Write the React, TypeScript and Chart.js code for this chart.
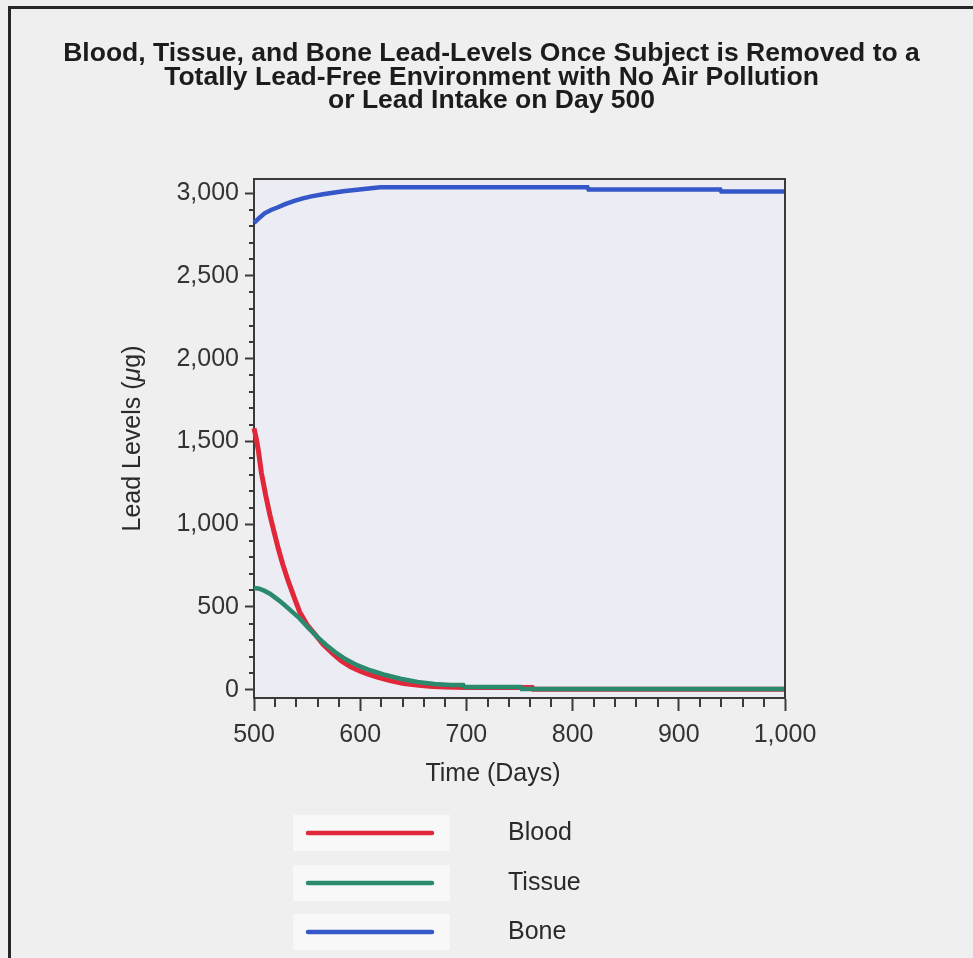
import React, { useEffect, useRef } from 'react';
import { Chart, registerables } from 'chart.js';

Chart.register(...registerables);

const TITLE_LINES = [
  'Blood, Tissue, and Bone Lead-Levels Once Subject is Removed to a',
  'Totally Lead-Free Environment with No Air Pollution',
  'or Lead Intake on Day 500',
];
const X_TITLE = 'Time (Days)';
const Y_TITLE_PARTS = [
  { text: 'Lead Levels (', italic: false },
  { text: 'μ', italic: true },
  { text: 'g)', italic: false },
];

const SERIES_NAMES = ['Blood', 'Tissue', 'Bone'];
const SERIES_COLORS = ['#e0283a', '#2b8a6e', '#3457c9'];

const BLOOD_DAYS = [500, 502, 504, 507, 511, 515, 519, 523, 527, 532, 538, 543, 550, 557, 565, 574, 582, 591, 600, 608, 616, 628, 641, 655, 668, 680, 700, 762, 763, 1000];
const BLOOD_LEVELS = [1580, 1520, 1450, 1310, 1175, 1055, 950, 850, 760, 660, 555, 470, 392, 338, 275, 220, 175, 138, 112, 92, 77, 55, 37, 27, 20, 17, 14, 14, 3, 3];

const TISSUE_DAYS = [500, 505, 510, 515, 519, 524, 529, 536, 543, 551, 560, 568, 576, 586, 597, 610, 622, 638, 654, 670, 685, 697, 698, 751, 752, 1000];
const TISSUE_LEVELS = [615, 610, 597, 580, 561, 537, 510, 470, 431, 375, 316, 270, 229, 185, 148, 116, 92, 66, 47, 35, 28, 28, 16, 16, 5, 5];

const BONE_DAYS = [500, 505, 510, 516, 522, 530, 538, 546, 554, 565, 576, 586, 597, 608, 619, 814, 815, 939, 940, 1000];
const BONE_LEVELS = [2820, 2850, 2878, 2898, 2913, 2935, 2953, 2968, 2980, 2993, 3004, 3012, 3020, 3028, 3035, 3035, 3022, 3022, 3010, 3010];

const X_MIN = 500;
const X_MAX = 1000;
const Y_MIN = -50;
const Y_MAX = 3085;
const X_MAJOR_TICKS = [500, 600, 700, 800, 900, 1000];
const X_MINOR_TICKS = [520, 540, 560, 580, 620, 640, 660, 680, 720, 740, 760, 780, 820, 840, 860, 880, 920, 940, 960, 980];
const Y_MAJOR_TICKS = [0, 500, 1000, 1500, 2000, 2500, 3000];
const Y_MINOR_TICKS = [100, 200, 300, 400, 600, 700, 800, 900, 1100, 1200, 1300, 1400, 1600, 1700, 1800, 1900, 2100, 2200, 2300, 2400, 2600, 2700, 2800, 2900];

const FONT = "'Liberation Sans', Arial, sans-serif";
const PAGE_BG = '#efefef';
const PLOT_BG = '#ececf4';
const INK = '#2a2a2a';
const AXIS = '#3a3a3a';

const fmt = (v: number) => Number(v).toLocaleString('en-US');

const pts = (days: number[], vals: number[]) => days.map((d, i) => ({ x: d, y: vals[i] }));

const decorPlugin = {
  id: 'decor',
  beforeDraw(chart: any) {
    const { ctx, width, height, chartArea: a } = chart;
    ctx.save();
    ctx.fillStyle = PAGE_BG;
    ctx.fillRect(0, 0, width, height);
    ctx.strokeStyle = '#262626';
    ctx.lineWidth = 3;
    ctx.beginPath();
    ctx.moveTo(9.5, height + 5);
    ctx.lineTo(9.5, 7.5);
    ctx.lineTo(width + 5, 7.5);
    ctx.stroke();
    ctx.fillStyle = PLOT_BG;
    ctx.fillRect(a.left, a.top, a.right - a.left, a.bottom - a.top);
    ctx.restore();
  },
  afterDraw(chart: any) {
    const { ctx, chartArea: a } = chart;
    const xs = chart.scales.x;
    const ys = chart.scales.y;
    ctx.save();
    // top and right frame of plot
    ctx.strokeStyle = AXIS;
    ctx.lineWidth = 2;
    ctx.beginPath();
    ctx.moveTo(a.left, a.top);
    ctx.lineTo(a.right, a.top);
    ctx.lineTo(a.right, a.bottom);
    ctx.stroke();
    // minor ticks
    ctx.lineWidth = 2;
    ctx.beginPath();
    for (const v of Y_MINOR_TICKS) {
      const py = Math.round(ys.getPixelForValue(v));
      ctx.moveTo(a.left - 5, py);
      ctx.lineTo(a.left, py);
    }
    for (const v of X_MINOR_TICKS) {
      const px = Math.round(xs.getPixelForValue(v));
      ctx.moveTo(px, a.bottom);
      ctx.lineTo(px, a.bottom + 9);
    }
    ctx.stroke();

    // y title
    ctx.fillStyle = INK;
    ctx.textBaseline = 'middle';
    const yMid = (a.top + a.bottom) / 2;
    ctx.translate(133, yMid);
    ctx.rotate(-Math.PI / 2);
    let total = 0;
    const widths: number[] = [];
    for (const p of Y_TITLE_PARTS) {
      ctx.font = `${p.italic ? 'italic ' : ''}25px ${FONT}`;
      const w = ctx.measureText(p.text).width;
      widths.push(w);
      total += w;
    }
    let cx = -total / 2;
    ctx.textAlign = 'left';
    Y_TITLE_PARTS.forEach((p, i) => {
      ctx.font = `${p.italic ? 'italic ' : ''}25px ${FONT}`;
      ctx.fillText(p.text, cx, 0);
      cx += widths[i];
    });
    ctx.setTransform(1, 0, 0, 1, 0, 0);

    // x title
    ctx.font = `25px ${FONT}`;
    ctx.textAlign = 'center';
    ctx.fillText(X_TITLE, 493, 774);

    // legend
    const ds = chart.data.datasets;
    const legendY = [833, 883, 932];
    ds.forEach((d: any, i: number) => {
      const y = legendY[i];
      ctx.fillStyle = '#f8f8f8';
      ctx.fillRect(293, y - 18, 157, 36);
      ctx.strokeStyle = d.borderColor;
      ctx.lineWidth = 4.5;
      ctx.lineCap = 'round';
      ctx.beginPath();
      ctx.moveTo(308, y);
      ctx.lineTo(432, y);
      ctx.stroke();
      ctx.fillStyle = INK;
      ctx.font = `25px ${FONT}`;
      ctx.textAlign = 'left';
      ctx.textBaseline = 'middle';
      ctx.fillText(d.label, 508, y);
    });
    ctx.restore();
  },
};

export default function App() {
  const ref = useRef<HTMLCanvasElement | null>(null);

  useEffect(() => {
    document.body.style.margin = '0';
    const canvas = ref.current;
    if (!canvas) return;
    const seriesData = [
      pts(BLOOD_DAYS, BLOOD_LEVELS),
      pts(TISSUE_DAYS, TISSUE_LEVELS),
      pts(BONE_DAYS, BONE_LEVELS),
    ];
    const drawOrder = [1, 0, 2];
    const chart = new Chart(canvas, {
      type: 'line',
      data: {
        datasets: SERIES_NAMES.map((name, i) => ({
          label: name,
          data: seriesData[i],
          borderColor: SERIES_COLORS[i],
          backgroundColor: SERIES_COLORS[i],
          borderWidth: i === 0 ? 5 : 4.5,
          pointRadius: 0,
          tension: 0,
          fill: false,
          order: drawOrder[i],
          clip: 4,
        })),
      },
      options: {
        animation: false,
        responsive: false,
        devicePixelRatio: 1,
        layout: { padding: { left: 10, right: 0, top: 0, bottom: 200 } },
        plugins: {
          legend: { display: false },
          tooltip: { enabled: false },
          title: {
            display: true,
            text: TITLE_LINES,
            color: '#1c1c1c',
            font: { family: FONT, size: 26.5, weight: 'bold', lineHeight: 0.887 },
            padding: { top: 42, bottom: 66.5 },
          },
        },
        scales: {
          x: {
            type: 'linear',
            min: X_MIN,
            max: X_MAX,
            afterBuildTicks: (s: any) => {
              s.ticks = X_MAJOR_TICKS.map((v) => ({ value: v }));
            },
            afterFit: (s: any) => {
              s.height = 60;
            },
            ticks: {
              callback: (v: any) => fmt(v),
              color: '#333',
              font: { family: FONT, size: 25 },
              padding: 9,
              maxRotation: 0,
              autoSkip: false,
            },
            grid: { drawOnChartArea: false, drawTicks: true, tickLength: 13, tickColor: AXIS, tickWidth: 2 },
            border: { display: true, color: AXIS, width: 2 },
          },
          y: {
            type: 'linear',
            position: 'left',
            min: Y_MIN,
            max: Y_MAX,
            afterBuildTicks: (s: any) => {
              s.ticks = Y_MAJOR_TICKS.map((v) => ({ value: v }));
            },
            afterFit: (s: any) => {
              s.width = 244;
            },
            ticks: {
              callback: (v: any) => fmt(v),
              color: '#333',
              font: { family: FONT, size: 25 },
              padding: 6,
              autoSkip: false,
            },
            grid: { drawOnChartArea: false, drawTicks: true, tickLength: 9, tickColor: AXIS, tickWidth: 2 },
            border: { display: true, color: AXIS, width: 2 },
          },
          rightSpace: {
            type: 'linear',
            position: 'right',
            display: true,
            afterFit: (s: any) => {
              s.width = 188;
            },
            ticks: { display: false },
            grid: { display: false },
            border: { display: false },
          },
        },
      },
      plugins: [decorPlugin],
    } as any);
    return () => chart.destroy();
  }, []);

  return (
    <div style={{ width: 973, height: 958 }}>
      <canvas ref={ref} width={973} height={958} style={{ display: 'block', width: 973, height: 958 }} />
    </div>
  );
}
